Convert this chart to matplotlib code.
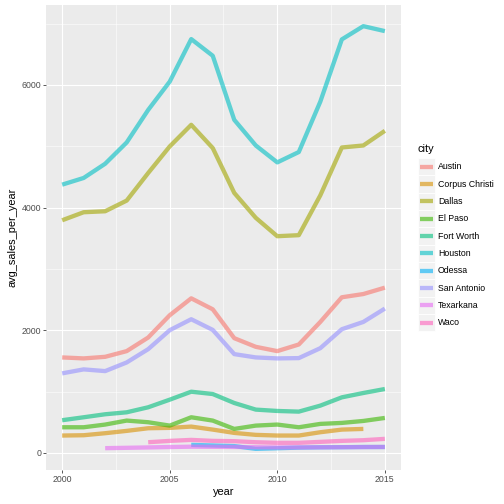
import matplotlib
matplotlib.use("Agg")
import matplotlib.pyplot as plt
from matplotlib.lines import Line2D
from matplotlib.patches import Rectangle

plt.rcParams["font.family"] = ["Liberation Sans", "DejaVu Sans"]

years = list(range(2000, 2016))

cities = ["Austin", "Corpus Christi", "Dallas", "El Paso", "Fort Worth",
          "Houston", "Odessa", "San Antonio", "Texarkana", "Waco"]
colors = ["#F8766D", "#D89000", "#A3A500", "#39B600", "#00BF7D",
          "#00BFC4", "#00B0F6", "#9590FF", "#E76BF3", "#FF62BC"]

austin = [1556, 1540, 1566, 1659, 1881, 2244, 2520, 2341, 1870, 1729, 1659, 1767, 2135, 2537, 2590, 2694]
corpus_christi = [282, 287, 320, 358, 401, 407, 428, 379, 325, 293, 282, 282, 336, 379, 390]
dallas = [3793, 3924, 3940, 4114, 4564, 4997, 5350, 4971, 4239, 3833, 3533, 3550, 4200, 4980, 5013, 5252]
el_paso = [417, 417, 461, 526, 499, 444, 580, 526, 390, 444, 461, 417, 472, 488, 520, 569]
fort_worth = [532, 580, 629, 661, 743, 867, 997, 959, 813, 705, 683, 672, 770, 905, 976, 1041]
houston = [4374, 4483, 4715, 5062, 5593, 6054, 6748, 6476, 5431, 5013, 4737, 4906, 5728, 6743, 6959, 6878]
odessa = [130, 120, 110, 65, 75, 85, 90, 92, 95, 95]
san_antonio = [1296, 1361, 1333, 1474, 1691, 2000, 2179, 2005, 1610, 1556, 1540, 1545, 1707, 2016, 2135, 2353]
texarkana = [76, 82, 88, 95, 100, 98, 96, 92, 88, 88, 90, 92, 94, 96]
waco = [173, 195, 211, 195, 190, 173, 163, 163, 179, 195, 206, 228]

series = [
    (years, austin),
    (years[:15], corpus_christi),
    (years, dallas),
    (years, el_paso),
    (years, fort_worth),
    (years, houston),
    (years[6:], odessa),
    (years, san_antonio),
    (years[2:], texarkana),
    (years[4:], waco),
]

W = H = 504
fig = plt.figure(figsize=(7, 7), dpi=72)
ax = fig.add_axes([46 / W, 1 - 470 / H, (401 - 46) / W, (470 - 5) / H])
ax.set_facecolor("#EBEBEB")
for s in ax.spines.values():
    s.set_visible(False)

for (x, y), c in zip(series, colors):
    ax.plot(x, y, color=c, alpha=0.6, lw=4.3, solid_capstyle="butt", zorder=3)

ax.set_xlim(1999.25, 2015.75)
ax.set_ylim(-280, 7304)
ax.set_xticks([2000, 2005, 2010, 2015])
ax.set_xticks([2002.5, 2007.5, 2012.5], minor=True)
ax.set_yticks([0, 2000, 4000, 6000])
ax.set_yticks([1000, 3000, 5000, 7000], minor=True)
ax.grid(which="major", color="white", lw=1.1, zorder=0)
ax.grid(which="minor", color="white", lw=0.55, zorder=0)
ax.set_axisbelow(True)
ax.tick_params(which="major", length=2.75, width=0.8, color="#333333",
               labelsize=8.8, labelcolor="#4D4D4D", pad=2)
ax.tick_params(which="minor", length=0)
ax.set_xlabel("year", fontsize=11, labelpad=3)
ax.set_ylabel("avg_sales_per_year", fontsize=11, labelpad=4)

# legend drawn ggplot-style in figure pixel coordinates
tr = fig.transFigure
fig.text(417 / W, 1 - 149 / H, "city", fontsize=11, va="center", ha="left")
for i, (name, c) in enumerate(zip(cities, colors)):
    yc = 166.7 + i * 17.33
    fig.patches.append(Rectangle((418 / W, 1 - (yc + 8.6) / H), 17.3 / W, 17.3 / H,
                                 facecolor="#F2F2F2", edgecolor="white", lw=0.8,
                                 transform=tr, figure=fig))
    fig.lines.append(Line2D([420 / W, 433 / W], [1 - yc / H, 1 - yc / H], color=c,
                            alpha=0.6, lw=4.3, solid_capstyle="butt",
                            transform=tr, figure=fig))
    fig.text(438 / W, 1 - yc / H, name, fontsize=8.8, va="center", ha="left")

fig.savefig("out.png", dpi=72)
